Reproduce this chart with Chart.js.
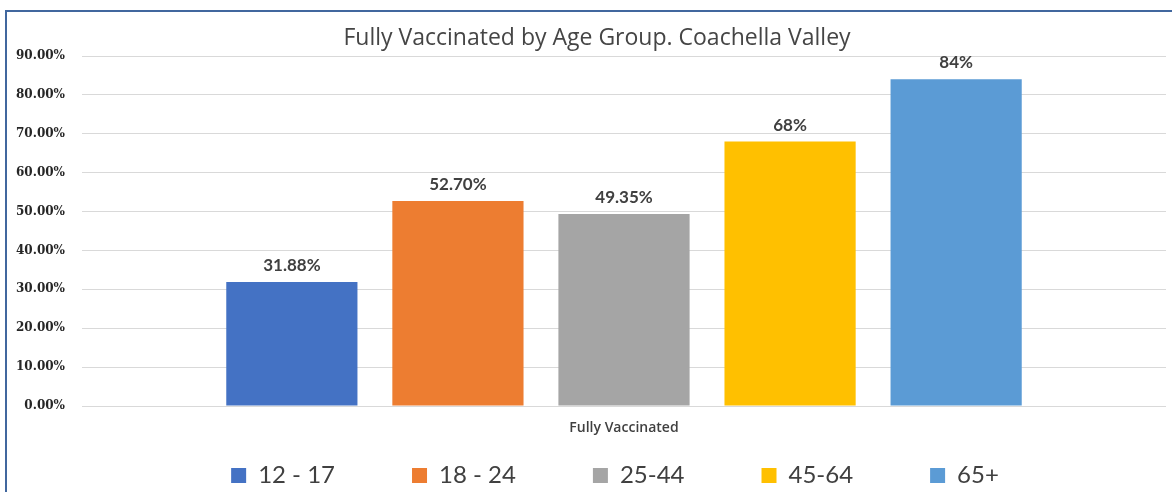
<!DOCTYPE html>
<html>
<head>
<meta charset="utf-8">
<script src="https://cdn.jsdelivr.net/npm/chart.js@4.4.0/dist/chart.umd.min.js"></script>
<style>
  html, body { margin: 0; padding: 0; background: #ffffff; }
  #wrap { position: relative; width: 1172px; height: 492px; overflow: hidden; }
  #c { position: absolute; left: 0; top: 0; }
  .frame-top { position: absolute; left: 5px; top: 10px; width: 1167px; height: 2px; background: #41679e; }
  .frame-left { position: absolute; left: 5px; top: 10px; width: 2px; height: 482px; background: #41679e; }
</style>
</head>
<body>
<div id="wrap">
  <canvas id="c" width="1172" height="492"></canvas>
  <div class="frame-top"></div>
  <div class="frame-left"></div>
</div>
<script>
const categories = ['Fully Vaccinated'];
const seriesNames = ['12 - 17', '18 - 24', '25-44', '45-64', '65+'];
const seriesValues = [31.88, 52.70, 49.35, 68, 84];
const valueLabels = ['31.88%', '52.70%', '49.35%', '68%', '84%'];
const seriesColors = ['#4472C4', '#ED7D31', '#A5A5A5', '#FFC000', '#5B9BD5'];
const yTicks = [0, 10, 20, 30, 40, 50, 60, 70, 80, 90];

const LEGEND_PAD = 77;
const LEGEND_ITEM_TOP = 463.5;
const LEGEND_BOX_H = 38;
const LEGEND_SHIFT = 64;   // moves legend row centre right by half of this
const TITLE_SHIFT = 28;    // moves title centre right by half of this

const datasets = seriesNames.map((name, i) => ({
  label: name,
  data: [seriesValues[i]],
  backgroundColor: seriesColors[i],
  borderWidth: 0,
  categoryPercentage: 0.766,
  barPercentage: 0.79
}));

const valueLabelPlugin = {
  id: 'valueLabels',
  afterDatasetsDraw(chart) {
    const ctx = chart.ctx;
    ctx.save();
    ctx.font = 'bold 17px Lato, "Open Sans", sans-serif';
    ctx.fillStyle = '#404040';
    ctx.textAlign = 'center';
    ctx.textBaseline = 'bottom';
    chart.data.datasets.forEach((ds, i) => {
      const meta = chart.getDatasetMeta(i);
      meta.data.forEach((el) => {
        ctx.fillText(valueLabels[i], el.x, el.y - 8);
      });
    });
    ctx.restore();
  }
};

const legendPlacePlugin = {
  id: 'legendPlace',
  beforeLayout(chart) {
    const lg = chart.legend;
    if (lg && !lg._wrappedFit) {
      const orig = lg.fit.bind(lg);
      lg.fit = function () { orig(); this.height = LEGEND_BOX_H; };
      lg._wrappedFit = true;
    }
  },
  afterLayout(chart) {
    const lg = chart.legend;
    if (lg) {
      lg.top = LEGEND_ITEM_TOP - LEGEND_PAD;
      lg.left += LEGEND_SHIFT;
    }
    const tb = chart.titleBlock;
    if (tb) { tb.left += TITLE_SHIFT; }
  }
};

new Chart(document.getElementById('c'), {
  type: 'bar',
  data: { labels: categories, datasets },
  plugins: [valueLabelPlugin, legendPlacePlugin],
  options: {
    responsive: false,
    animation: false,
    layout: { padding: { left: 0, right: 6, top: 0, bottom: 0 } },
    plugins: {
      title: {
        display: true,
        text: 'Fully Vaccinated by Age Group. Coachella Valley',
        color: '#454545',
        font: { family: '"Open Sans", Lato, sans-serif', size: 23, weight: 'normal', lineHeight: 1.2 },
        padding: { top: 24.7, bottom: 3.7 }
      },
      legend: {
        position: 'bottom',
        labels: {
          color: '#404040',
          font: { family: 'Lato, "Open Sans", sans-serif', size: 24 },
          boxWidth: 15,
          boxHeight: 15,
          padding: LEGEND_PAD
        }
      },
      tooltip: { enabled: false }
    },
    scales: {
      x: {
        grid: { display: false, drawTicks: false },
        border: { display: false },
        ticks: {
          color: '#404040',
          padding: 14,
          font: { family: '"Open Sans", Lato, sans-serif', size: 14, weight: '600' }
        },
        afterFit(scale) { scale.height = 48; }
      },
      y: {
        min: 0,
        max: 90,
        afterBuildTicks(scale) { scale.ticks = yTicks.map(v => ({ value: v })); },
        grid: { color: '#d9d9d9', drawTicks: false },
        border: { display: false },
        ticks: {
          color: '#262626',
          padding: 17,
          font: { family: '"DejaVu Serif", serif', size: 12, weight: 'bold' },
          callback: (v) => Number(v).toFixed(2) + '%'
        },
        afterFit(scale) { scale.width = 82; }
      }
    }
  }
});
</script>
</body>
</html>
